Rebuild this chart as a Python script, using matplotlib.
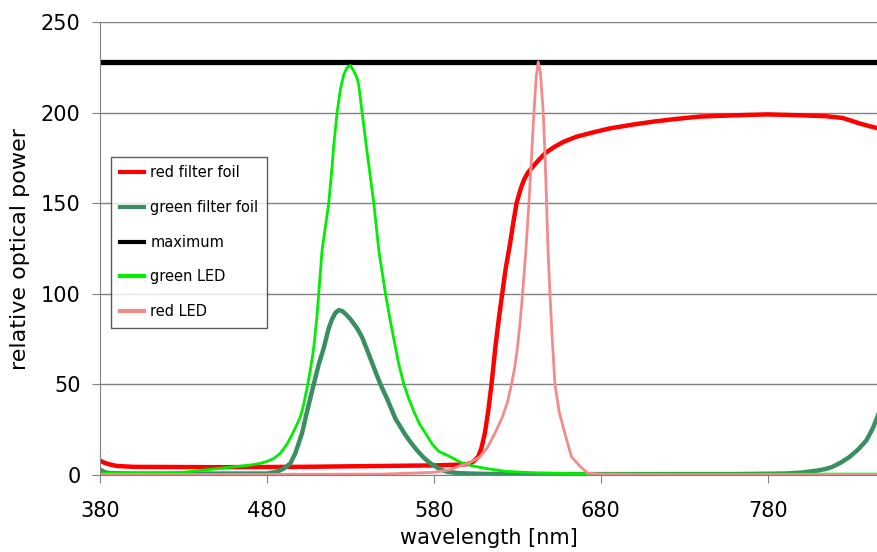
import matplotlib
matplotlib.use("Agg")
import matplotlib.pyplot as plt

# green LED spectrum
green_led_wl = [380, 400, 420, 430, 440, 450, 460, 470, 476, 480, 484, 488, 492, 496,
                500, 502, 504, 506, 508, 510, 511, 513, 515, 517, 519, 520, 522, 524, 526,
                528, 530, 532, 534, 535, 537, 540, 544, 547, 551, 553.5, 556, 559, 562,
                565, 568, 571.5, 575, 579, 583, 590, 596, 603, 612, 623, 640, 660, 680,
                720, 780, 846]
green_led = [1, 1, 1, 1.5, 2.5, 3.5, 4.5, 5.5, 6.4, 7.5, 9, 12, 17, 24,
             32, 39, 48, 58, 70, 88, 100, 124, 137, 150, 170, 182, 200, 213, 221,
             225, 226, 223, 219, 215, 200, 178, 150, 124, 100, 87, 75, 61, 50,
             42, 35, 28, 23, 17, 13, 10, 7, 5, 3.5, 2, 1.2, 0.8, 0.5,
             0.5, 0.5, 0.5]

# green filter foil transmission
green_foil_wl = [380, 383, 386, 400, 450, 480, 486, 490, 494, 497, 501, 504, 508, 511,
                 514, 517, 519, 521, 523, 525, 527, 530, 534, 537, 540, 545, 548, 552,
                 557, 563, 566.5, 570, 574, 578, 584, 588, 595, 610, 650, 700, 760, 790,
                 800, 810, 815, 819, 824, 829, 834, 839, 843, 846]
green_foil = [3, 1.5, 1, 0.8, 0.8, 0.8, 1.8, 3.5, 6.4, 12, 23, 35, 50, 61,
              70, 81, 86, 89.5, 91, 90.5, 89, 86, 81, 76, 69, 57, 50, 42,
              31, 22, 17.5, 13.5, 9.5, 6.4, 3, 1.8, 1, 0.6, 0.5, 0.5, 0.5, 0.8,
              1.3, 2.5, 3.4, 4.6, 7, 10, 14, 19, 26, 33]

# red filter foil transmission
red_foil_wl = [380, 382, 385, 390, 400, 450, 500, 550, 580, 595, 600, 603, 606.5, 608.5,
               610.5, 612.5, 614.5, 617, 619, 620.9, 623, 625.5, 627.5, 629.5, 632, 634,
               636.4, 641, 646.5, 652, 658, 665.4, 675, 685.4, 700, 711.3, 725, 739.3,
               760, 780, 800, 815, 825, 835, 841, 846]
red_foil = [8, 7, 6, 5, 4.5, 4.3, 4.5, 5, 5.3, 5.7, 6, 7, 10, 15,
            23, 35, 50, 72, 87, 100, 114, 127, 139, 150, 158, 163,
            167, 172, 177.5, 181, 184, 186.7, 189, 191.3, 193.5, 195, 196.5, 197.8,
            198.5, 199, 198.5, 198, 197, 194, 192.5, 191.3]

# red LED spectrum
red_led_wl = [380, 450, 550, 580, 590, 595.6, 601, 607.5, 612, 616.5, 621, 624, 626.5,
              628.5, 630, 631.7, 633.1, 635.1, 636.9, 638.5, 639.9, 641.3, 642.5, 643.8,
              645.5, 646.6, 647.5, 648.3, 649.5, 651, 652.5, 655, 658.4, 662.4, 667.4,
              672, 680, 720, 846]
red_led = [0.3, 0.3, 0.5, 1.5, 3, 5, 6.6, 10, 15, 23, 32, 40, 50,
           60, 70, 85, 100, 124, 150, 176, 200, 220, 228, 222,
           200, 175, 150, 125, 100, 73, 50, 35, 23, 10, 5,
           1, 0.5, 0.3, 0.3]

maximum_wl = [380, 846]
maximum = [228, 228]

fig = plt.figure(figsize=(8.78, 5.52), dpi=100)
ax = fig.add_axes([100 / 878, 77 / 552, 778 / 878, 453 / 552])

ax.plot(red_foil_wl, red_foil, color='#ff0000', lw=3.2, label='red filter foil')
ax.plot(green_foil_wl, green_foil, color='#3a8f62', lw=3.2, label='green filter foil')
ax.plot(maximum_wl, maximum, color='black', lw=3.8, label='maximum')
ax.plot(green_led_wl, green_led, color='#00ee00', lw=2, label='green LED')
ax.plot(red_led_wl, red_led, color='#f28b8b', lw=2, label='red LED')

ax.set_xlim(380, 846)
ax.set_ylim(0, 250)
ax.set_xticks([380, 480, 580, 680, 780])
ax.set_yticks([0, 50, 100, 150, 200, 250])
ax.yaxis.grid(True, color='#808080', lw=1)
ax.set_axisbelow(True)

for side in ['top', 'right']:
    ax.spines[side].set_visible(False)
for side in ['left', 'bottom']:
    ax.spines[side].set_color('#808080')
ax.tick_params(axis='both', direction='out', length=6, color='#808080', labelsize=15)
ax.tick_params(axis='y', pad=8)
ax.tick_params(axis='x', pad=13)

ax.set_xlabel('wavelength [nm]', fontsize=15)
ax.set_ylabel('relative optical power', fontsize=16)
ax.xaxis.set_label_coords(0.5, -0.118)
ax.yaxis.set_label_coords(-0.09, 0.5)

leg = ax.legend(loc='upper left', bbox_to_anchor=(0.014, 0.703), fontsize=10.5,
                frameon=True, fancybox=False, labelspacing=1.35, handlelength=1.7,
                handletextpad=0.4, borderpad=0.6, borderaxespad=0)
leg.get_frame().set_edgecolor('#333333')
leg.get_frame().set_linewidth(1)
for line in leg.get_lines():
    line.set_linewidth(3)

fig.savefig('out.png', dpi=100)
